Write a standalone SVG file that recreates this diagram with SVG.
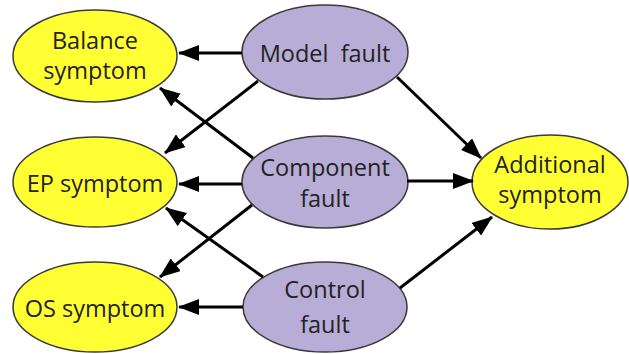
<svg xmlns="http://www.w3.org/2000/svg" width="629" height="354" viewBox="0 0 629 354">
<style>
.sym{fill:#FFFF33;stroke:#3a3a3a;stroke-width:1.5}
.flt{fill:#B7ADD6;stroke:#3a3a3a;stroke-width:1.5}
text{font-family:"Open Sans","Liberation Sans",sans-serif;font-size:23.5px;fill:#222;text-anchor:middle}
.edge{stroke:#000;stroke-width:3;fill:none;marker-end:url(#ah)}
</style>
<defs>
<marker id="ah" markerUnits="userSpaceOnUse" markerWidth="21" markerHeight="16" refX="20" refY="8" orient="auto">
<path d="M0,0 L21,8 L0,16 z" fill="#000"/>
</marker>
</defs>
<rect width="629" height="354" fill="#fff"/>
<g id="balance"><ellipse class="sym" cx="95" cy="56" rx="82" ry="46"/><text x="95" y="49">Balance</text><text x="95" y="79">symptom</text></g>
<g id="ep"><ellipse class="sym" cx="95" cy="182" rx="82" ry="45"/><text x="95" y="192">EP symptom</text></g>
<g id="os"><ellipse class="sym" cx="95" cy="307" rx="82" ry="45"/><text x="95" y="317">OS symptom</text></g>
<g id="model"><ellipse class="flt" cx="325" cy="52" rx="83" ry="47"/><text x="325" y="62" xml:space="preserve">Model  fault</text></g>
<g id="component"><ellipse class="flt" cx="325" cy="182" rx="83" ry="46"/><text x="325" y="176">Component</text><text x="325" y="207">fault</text></g>
<g id="control"><ellipse class="flt" cx="325" cy="307" rx="82" ry="45"/><text x="325" y="298">Control</text><text x="325" y="333">fault</text></g>
<g id="additional"><ellipse class="sym" cx="550" cy="182" rx="78" ry="47"/><text x="550" y="173">Additional</text><text x="550" y="203">symptom</text></g>
<g id="connectors">
<line class="edge" x1="242" y1="53" x2="179" y2="53"/>
<line class="edge" x1="258" y1="81" x2="165" y2="153"/>
<line class="edge" x1="253" y1="158" x2="160" y2="88"/>
<line class="edge" x1="242" y1="184" x2="179" y2="184"/>
<line class="edge" x1="252" y1="205" x2="160" y2="277"/>
<line class="edge" x1="263" y1="277" x2="166" y2="208"/>
<line class="edge" x1="243" y1="307" x2="179" y2="307"/>
<line class="edge" x1="397" y1="77" x2="481" y2="158"/>
<line class="edge" x1="407" y1="181" x2="473" y2="181"/>
<line class="edge" x1="400" y1="288" x2="492" y2="217"/>
</g>
</svg>
